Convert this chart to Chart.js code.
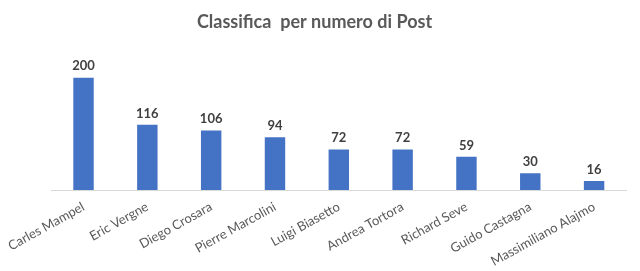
<!DOCTYPE html>
<html>
<head>
<meta charset="utf-8">
<script src="https://cdn.jsdelivr.net/npm/chart.js@4"></script>
<style>
    html, body { margin: 0; padding: 0; background: #fff; }
    #wrap { width: 640px; height: 271px; }
</style>
</head>
<body>
<div id="wrap"><canvas id="bar-chart"></canvas></div>
<script>
var aNames = ["Carles Mampel", "Eric Vergne", "Diego Crosara", "Pierre Marcolini", "Luigi Biasetto",
              "Andrea Tortora", "Richard Seve", "Guido Castagna", "Massimiliano Alajmo"];
var aPosts = [200, 116, 106, 94, 72, 72, 59, 30, 16];

// simple value labels above each bar
var valueLabels = {
    id: 'valueLabels',
    afterDatasetsDraw: function(chart) {
        var ctx = chart.ctx;
        var meta = chart.getDatasetMeta(0);
        ctx.save();
        ctx.font = 'bold 13px Lato';
        ctx.fillStyle = '#404040';
        ctx.textAlign = 'center';
        ctx.textBaseline = 'bottom';
        meta.data.forEach(function(bar, i) {
            ctx.fillText(aPosts[i], bar.x, bar.y - 5);
        });
        ctx.restore();
    }
};

new Chart(document.getElementById("bar-chart"), {
    type: 'bar',
    data: {
        labels: aNames,
        datasets: [{
            label: "Post",
            data: aPosts,
            backgroundColor: "#4472C4",
            categoryPercentage: 1,
            barPercentage: 0.32
        }]
    },
    options: {
        responsive: true,
        maintainAspectRatio: false,
        animation: false,
        layout: { padding: { left: 3, right: 14, top: 4, bottom: 0 } },
        plugins: {
            legend: { display: false },
            tooltip: { enabled: false },
            title: {
                display: true,
                text: 'Classifica  per numero di Post',
                color: '#595959',
                font: { family: 'Lato', size: 18, weight: 'bold' },
                padding: { top: 7, bottom: 17 }
            }
        },
        scales: {
            y: { display: false, min: 0, max: 250 },
            x: {
                grid: { display: false, drawTicks: false },
                border: { color: '#d9d9d9', width: 1 },
                afterFit: function(scale) { scale.height = 81; },
                ticks: {
                    color: '#595959',
                    font: { family: 'Lato', size: 13 },
                    minRotation: 29,
                    maxRotation: 29,
                    padding: 9
                }
            }
        }
    },
    plugins: [valueLabels]
});
</script>
</body>
</html>
